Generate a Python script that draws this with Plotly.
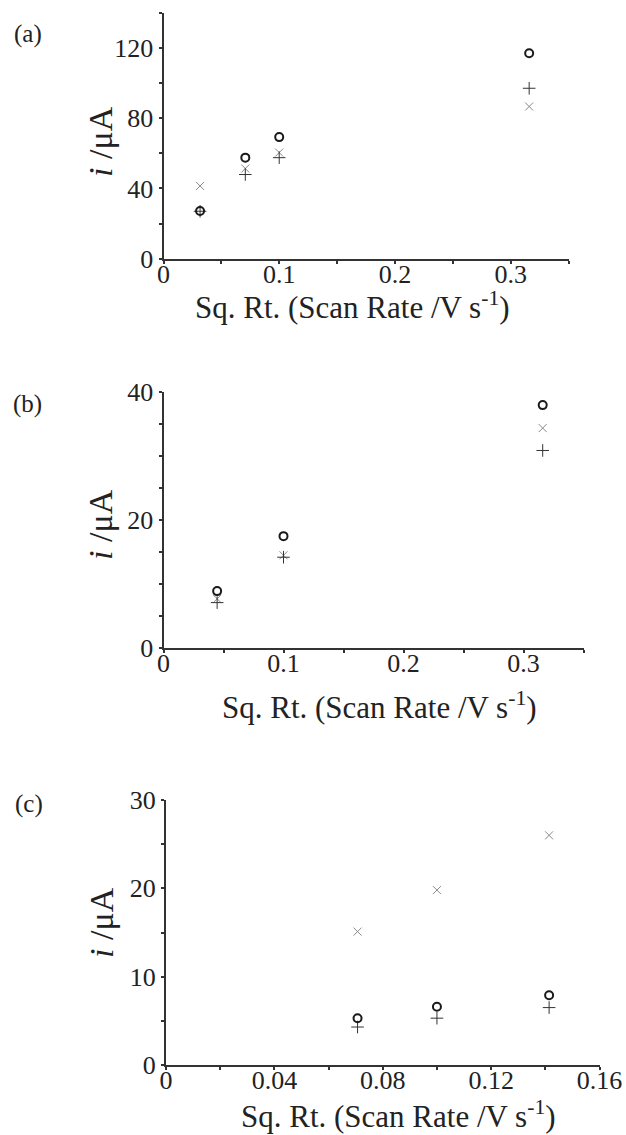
import plotly.graph_objects as go

# ---------------- data ----------------
# panel (a)
xa = [0.0316, 0.0707, 0.1, 0.316]
a_circle = [27.1, 57.5, 69.2, 116.9]
a_plus = [27.0, 47.9, 57.5, 97.0]
a_x = [41.4, 51.3, 60.4, 86.6]

# panel (b)
xb = [0.0447, 0.1, 0.316]
b_circle = [8.9, 17.5, 38.0]
b_x = [7.7, 14.5, 34.4]
b_plus = [7.1, 14.2, 30.9]

# panel (c)
xc = [0.0707, 0.1, 0.1414]
c_x = [15.1, 19.8, 26.0]
c_circle = [5.3, 6.6, 7.9]
c_plus = [4.3, 5.3, 6.5]

a_xticks = [0, 0.1, 0.2, 0.3]
a_yticks = [0, 40, 80, 120]
b_xticks = [0, 0.1, 0.2, 0.3]
b_yticks = [0, 20, 40]
c_xticks = [0, 0.04, 0.08, 0.12, 0.16]
c_xticklabels = ["0", "0.04", "0.08", "0.12", "0.16"]
c_yticks = [0, 10, 20, 30]

panel_labels = ["(a)", "(b)", "(c)"]
x_title = "Sq. Rt. (Scan Rate /V s<sup>-1</sup>)"
y_title = "<i>i</i> /μA"

# ---------------- layout helpers ----------------
W, H = 626, 1135
FONT = "Liberation Serif, Times New Roman, serif"
AX = "#333333"


def px_x(p):
    return p / W


def px_y(p):
    return 1 - p / H


fig = go.Figure()

circle_style = dict(symbol="circle-open", size=8, color="#1a1a1a", line=dict(width=2, color="#1a1a1a"))
plus_style = dict(symbol="cross-thin-open", size=9, color="#333333", line=dict(width=1, color="#333333"))
x_style = dict(symbol="x-thin-open", size=8, color="#8a8a8a", line=dict(width=1, color="#8a8a8a"))

panels = [
    dict(x=xa, series=[(a_x, x_style), (a_plus, plus_style), (a_circle, circle_style)],
         xr=[0, 0.35], yr=[0, 140], xt=a_xticks, xtl=[str(v) for v in a_xticks], yt=a_yticks,
         xminor=0.05, yminor=20, box=(163.5, 568.5, 12.7, 258.7),
         lab=(28, 34), ytit=(100, 142), xtit=(193, 306)),
    dict(x=xb, series=[(b_x, x_style), (b_plus, plus_style), (b_circle, circle_style)],
         xr=[0, 0.35], yr=[0, 40], xt=b_xticks, xtl=[str(v) for v in b_xticks], yt=b_yticks,
         xminor=0.05, yminor=5, box=(163.5, 583.5, 392.3, 648.0),
         lab=(27, 404), ytit=(101, 524), xtit=(220, 705)),
    dict(x=xc, series=[(c_x, x_style), (c_plus, plus_style), (c_circle, circle_style)],
         xr=[0, 0.16], yr=[0, 30], xt=c_xticks, xtl=c_xticklabels, yt=c_yticks,
         xminor=0.02, yminor=5, box=(166.0, 599.5, 800.0, 1065.0),
         lab=(29, 804), ytit=(101, 922), xtit=(239, 1114)),
]

annotations = []
for i, p in enumerate(panels):
    n = "" if i == 0 else str(i + 1)
    xa_name = "x" + n
    ya_name = "y" + n
    for ys, st in p["series"]:
        fig.add_trace(go.Scatter(x=p["x"], y=ys, mode="markers", marker=st,
                                 xaxis=xa_name, yaxis=ya_name, showlegend=False, cliponaxis=False))
    l, r, t, b = p["box"]
    common = dict(showgrid=False, zeroline=False, showline=True, linecolor=AX, linewidth=2,
                  ticks="outside", ticklen=3, tickwidth=1.5, tickcolor=AX, automargin=False,
                  tickfont=dict(family=FONT, size=26, color="#222222"), fixedrange=True)
    fig.layout["xaxis" + n] = dict(
        domain=[px_x(l), px_x(r)], range=p["xr"], anchor=ya_name,
        tickmode="array", tickvals=p["xt"], ticktext=p["xtl"], ticklabelstandoff=-12,
        minor=dict(dtick=p["xminor"], tick0=0, ticks="outside", ticklen=3, tickwidth=1.5, tickcolor=AX),
        **common)
    fig.layout["yaxis" + n] = dict(
        domain=[px_y(b), px_y(t)], range=p["yr"], anchor=xa_name,
        tickmode="array", tickvals=p["yt"], ticktext=[str(v) for v in p["yt"]],
        minor=dict(dtick=p["yminor"], tick0=0, ticks="outside", ticklen=3, tickwidth=1.5, tickcolor=AX),
        **common)
    annotations.append(dict(text=panel_labels[i], x=px_x(p["lab"][0]), y=px_y(p["lab"][1]),
                            xref="paper", yref="paper", showarrow=False, xanchor="center", yanchor="middle",
                            font=dict(family=FONT, size=25, color="#222222")))
    annotations.append(dict(text=y_title, x=px_x(p["ytit"][0]), y=px_y(p["ytit"][1]),
                            xref="paper", yref="paper", showarrow=False, xanchor="center", yanchor="middle",
                            textangle=-90, font=dict(family=FONT, size=34, color="#222222")))
    annotations.append(dict(text=x_title, x=px_x(p["xtit"][0]), y=px_y(p["xtit"][1]),
                            xref="paper", yref="paper", showarrow=False, xanchor="left", yanchor="middle",
                            font=dict(family=FONT, size=31, color="#222222")))

fig.update_layout(template="none", width=W, height=H,
                  margin=dict(l=0, r=0, t=0, b=0, pad=0, autoexpand=False),
                  paper_bgcolor="white", plot_bgcolor="white", annotations=annotations)

fig.write_html("out.html", config={"displayModeBar": False},
               post_script="document.body.style.margin='0';document.body.style.padding='0';")
